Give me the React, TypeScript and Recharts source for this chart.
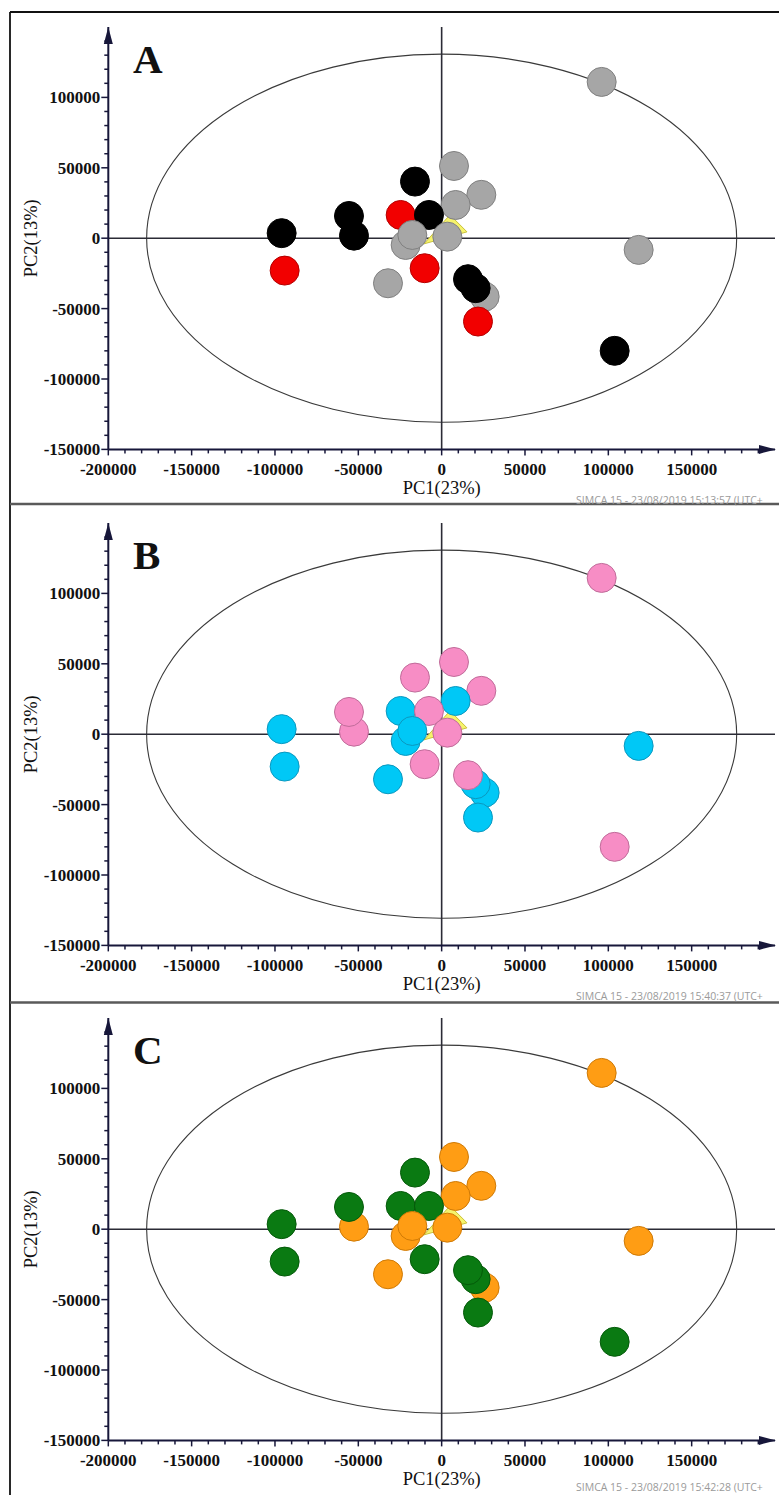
import React from 'react';
import { ScatterChart, Scatter, XAxis, YAxis, ReferenceLine, ReferenceArea, ReferenceDot } from 'recharts';

// PCA scores (PC1, PC2) of the 22 observations, in drawing order
const pcX = [96000, 118200, -96000, -94200, -52600, -55600, -16000, -24600, 7400, 23800, 8400, -7600, -21600, -17600, 3400, -10200, -32200, 25800, 20400, 15800, 21800, 103800];
const pcY = [111000, -8300, 3600, -23000, 1800, 15800, 40200, 16500, 51300, 30800, 23600, 16500, -4800, 2300, 1100, -21300, -32000, -41500, -35500, -29100, -59200, -80000];

// class membership per panel
const groupsA = ['gray', 'gray', 'black', 'red', 'black', 'black', 'black', 'red', 'gray', 'gray', 'gray', 'black', 'gray', 'gray', 'gray', 'red', 'gray', 'gray', 'black', 'black', 'red', 'black'];
const groupsB = ['pink', 'cyan', 'cyan', 'cyan', 'pink', 'pink', 'pink', 'cyan', 'pink', 'pink', 'cyan', 'pink', 'cyan', 'cyan', 'pink', 'pink', 'cyan', 'cyan', 'cyan', 'pink', 'cyan', 'pink'];
const groupsC = ['orange', 'orange', 'green', 'green', 'orange', 'green', 'green', 'green', 'orange', 'orange', 'orange', 'green', 'orange', 'orange', 'orange', 'green', 'orange', 'orange', 'green', 'green', 'green', 'green'];

// Hotelling T2 ellipse semi-axes
const ellipseX = 177000;
const ellipseY = 130700;

// centroid marker
const centroid = [{ x: 3200, y: 4500 }];

const xTicks = [-200000, -190000, -180000, -170000, -160000, -150000, -140000, -130000, -120000, -110000, -100000, -90000, -80000, -70000, -60000, -50000, -40000, -30000, -20000, -10000, 0, 10000, 20000, 30000, 40000, 50000, 60000, 70000, 80000, 90000, 100000, 110000, 120000, 130000, 140000, 150000, 160000, 170000, 180000, 190000];
const yTicks = [-150000, -140000, -130000, -120000, -110000, -100000, -90000, -80000, -70000, -60000, -50000, -40000, -30000, -20000, -10000, 0, 10000, 20000, 30000, 40000, 50000, 60000, 70000, 80000, 90000, 100000, 110000, 120000, 130000, 140000];

const xLabelMax = 150000;
const yLabelMax = 100000;

const palette: Record<string, { fill: string; stroke: string }> = {
  gray: { fill: '#a6a6a6', stroke: '#808080' },
  red: { fill: '#f20000', stroke: '#b40000' },
  black: { fill: '#000000', stroke: '#000000' },
  pink: { fill: '#f78dc5', stroke: '#c06c9a' },
  cyan: { fill: '#00c8f6', stroke: '#0b98bf' },
  green: { fill: '#0a7a12', stroke: '#055a0a' },
  orange: { fill: '#ff9d14', stroke: '#cf7a06' },
};

const AXIS = '#17173a';
const SERIF = "'Liberation Serif', 'Times New Roman', serif";

const XTick = (props: any) => {
  const { x, y, payload } = props;
  const v = payload.value as number;
  const major = v % 50000 === 0;
  return (
    <g>
      <line x1={x} x2={x} y1={y} y2={y + (major ? 6 : 4)} stroke={AXIS} strokeWidth={1.5} />
      {major && v <= xLabelMax ? (
        <text x={x} y={y + 26} textAnchor="middle" fontFamily={SERIF} fontWeight="bold" fontSize={17} fill="#111">
          {String(v)}
        </text>
      ) : null}
    </g>
  );
};

const YTick = (props: any) => {
  const { x, y, payload } = props;
  const v = payload.value as number;
  const major = v % 50000 === 0;
  return (
    <g>
      <line x1={x - (major ? 7 : 4)} x2={x} y1={y} y2={y} stroke={AXIS} strokeWidth={1.5} />
      {major && v <= yLabelMax ? (
        <text x={x - 8} y={y + 6} textAnchor="end" fontFamily={SERIF} fontWeight="bold" fontSize={17} fill="#111">
          {String(v)}
        </text>
      ) : null}
    </g>
  );
};

const EllipseShape = (p: any) => (
  <ellipse cx={p.x + p.width / 2} cy={p.y + p.height / 2} rx={Math.abs(p.width) / 2} ry={Math.abs(p.height) / 2} fill="none" stroke="#3a3a3a" strokeWidth={1.1} />
);

const XArrow = (p: any) => (
  <polygon points={`${p.cx - 16},${p.cy - 4.5} ${p.cx + 1},${p.cy} ${p.cx - 16},${p.cy + 4.5}`} fill={AXIS} />
);
const YArrow = (p: any) => (
  <polygon points={`${p.cx - 4.5},${p.cy + 17} ${p.cx},${p.cy} ${p.cx + 4.5},${p.cy + 17}`} fill={AXIS} />
);

const CentroidShape = (p: any) => (
  <polygon points={`${p.cx - 23},${p.cy + 12} ${p.cx + 3},${p.cy - 17} ${p.cx + 20},${p.cy}`} fill="#f6f36c" stroke="#c9c23c" strokeWidth={1} />
);

const makeDot = (p: any) => {
  const c = palette[p.payload.group];
  return <circle cx={p.cx} cy={p.cy} r={14.5} fill={c.fill} stroke={c.stroke} strokeWidth={1} />;
};

const CHART_H = 500;
const M_TOP = 20;
const HALF_PLOT = 211.2;

type PanelProps = { zeroY: number; groups: string[] };

function Panel({ zeroY, groups }: PanelProps) {
  const data = pcX.map((x, i) => ({ x, y: pcY[i], group: groups[i] }));
  const top = zeroY - HALF_PLOT - M_TOP;
  return (
    <div style={{ position: 'absolute', left: 0, top, width: 779, height: CHART_H }}>
      <ScatterChart width={779} height={CHART_H} margin={{ top: M_TOP, right: 4, bottom: 7.6, left: 0 }}>
        <XAxis
          type="number"
          dataKey="x"
          domain={[-200000, 200000]}
          ticks={xTicks}
          interval={0}
          tickSize={0}
          tickMargin={0}
          tickLine={false}
          tick={<XTick />}
          axisLine={{ stroke: AXIS, strokeWidth: 2 }}
          height={50}
          allowDataOverflow
        />
        <YAxis
          type="number"
          dataKey="y"
          domain={[-150000, 150000]}
          ticks={yTicks}
          interval={0}
          tickSize={0}
          tickMargin={0}
          tickLine={false}
          tick={<YTick />}
          axisLine={{ stroke: AXIS, strokeWidth: 2 }}
          width={108.3}
          allowDataOverflow
        />
        <ReferenceArea x1={-ellipseX} x2={ellipseX} y1={-ellipseY} y2={ellipseY} shape={EllipseShape} ifOverflow="visible" />
        <ReferenceLine x={0} stroke="#2b2b35" strokeWidth={1.6} ifOverflow="visible" />
        <ReferenceLine y={0} stroke="#2b2b35" strokeWidth={1.6} ifOverflow="visible" />
        <Scatter data={centroid} shape={CentroidShape} isAnimationActive={false} />
        <Scatter data={data} shape={makeDot} isAnimationActive={false} />
        <ReferenceDot x={200000} y={-150000} shape={XArrow} ifOverflow="visible" />
        <ReferenceDot x={-200000} y={150000} shape={YArrow} ifOverflow="visible" />
      </ScatterChart>
    </div>
  );
}

const panels = [
  { letter: 'A', zeroY: 238.3, groups: groupsA, stampY: 503.5, stamp: 'SIMCA 15 - 23/08/2019 15:13:57 (UTC+' },
  { letter: 'B', zeroY: 734.3, groups: groupsB, stampY: 999.5, stamp: 'SIMCA 15 - 23/08/2019 15:40:37 (UTC+' },
  { letter: 'C', zeroY: 1229.3, groups: groupsC, stampY: 1491, stamp: 'SIMCA 15 - 23/08/2019 15:42:28 (UTC+' },
];

export default function App() {
  return (
    <div style={{ position: 'fixed', left: 0, top: 0, width: 779, height: 1495, overflow: 'hidden', background: '#fff' }}>
      <svg width={779} height={1495} style={{ position: 'absolute', left: 0, top: 0 }}>
        <line x1={10} x2={10} y1={12} y2={1495} stroke="#111" strokeWidth={1.8} />
        <line x1={10} x2={779} y1={12} y2={12} stroke="#111" strokeWidth={1.8} />
        <line x1={10} x2={779} y1={504} y2={504} stroke="#5a5a5a" strokeWidth={2.5} />
        <line x1={10} x2={779} y1={1002.5} y2={1002.5} stroke="#5a5a5a" strokeWidth={2.5} />
        {panels.map((p) => (
          <g key={p.letter}>
            <text x={133} y={p.zeroY - 165} fontFamily={SERIF} fontWeight="bold" fontSize={41} fill="#111">
              {p.letter}
            </text>
            <text x={441.7} y={p.zeroY + 256} textAnchor="middle" fontFamily={SERIF} fontSize={18.5} fill="#111">
              PC1(23%)
            </text>
            <text
              x={0}
              y={0}
              transform={`translate(37 ${p.zeroY}) rotate(-90)`}
              textAnchor="middle"
              fontFamily={SERIF}
              fontSize={18.5}
              fill="#111"
            >
              PC2(13%)
            </text>
            <text x={576} y={p.stampY} fontFamily="'Open Sans', 'Liberation Sans', Arial, sans-serif" fontSize={10.5} fill="#9a9a9a">
              {p.stamp}
            </text>
          </g>
        ))}
      </svg>
      {panels.map((p) => (
        <Panel key={p.letter} zeroY={p.zeroY} groups={p.groups} />
      ))}
    </div>
  );
}
